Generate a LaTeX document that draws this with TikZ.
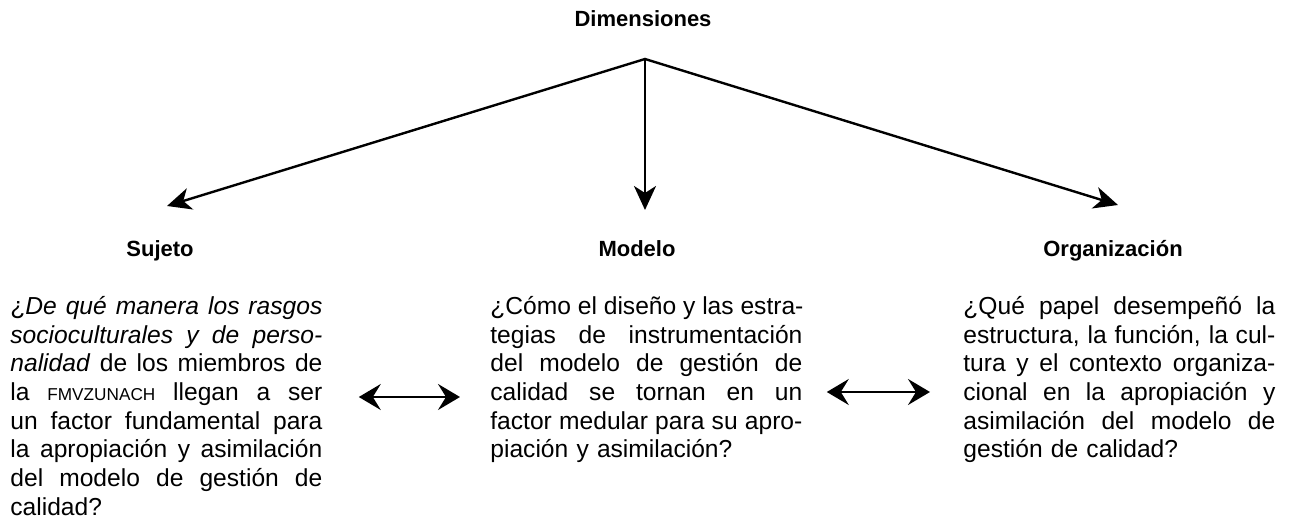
\documentclass[tikz,border=0pt]{standalone}
\usepackage{fontspec}
\setmainfont{Liberation Sans}
\usetikzlibrary{arrows.meta}

\newlength{\colw}\setlength{\colw}{156pt}
% one justified line of a question
\newcommand{\jline}[1]{\leavevmode\hbox to\colw{\spaceskip=\fontdimen2\font plus 1fil\relax
    \xspaceskip=\spaceskip #1}\\}
\newcommand{\acro}[1]{{\fontsize{8.6}{9}\selectfont #1}}

\begin{document}
\begin{tikzpicture}[x=1pt,y=-1pt,line join=miter,
    >={Stealth[length=12pt,width=11pt,inset=3.5pt]},
    head/.style={font=\fontsize{11}{13}\selectfont\bfseries,anchor=base,inner sep=0pt},
    question/.style={anchor=north west,text width=\colw,align=left,inner sep=0pt,
        font=\fontsize{12.3}{14.35}\selectfont},
    branch/.style={line width=1.2pt},
    link/.style={{Stealth[length=11pt,width=13pt,inset=4pt]}-{Stealth[length=11pt,width=13pt,inset=4pt]},
        line width=1.1pt}]

    % fix the page size
    \useasboundingbox (0,0) rectangle (646,261.5);

    % draw the title and the branching arrows
    \node[head] (dim) at (321.5,13.5) {Dimensiones};
    \coordinate (apex) at (322.5,29.5);
    \coordinate (sujtip) at (83.5,103);
    \coordinate (modtip) at (322.5,105);
    \coordinate (orgtip) at (559,102.5);
    \draw[branch,<->] (sujtip) -- (apex) -- (orgtip);
    \draw[branch,->] (apex) -- (modtip);

    % the three dimensions
    \foreach \n/\x/\txt in {suj/80/Sujeto, mod/318.5/Modelo, org/556.5/Organización}
        \node[head] (\n) at (\x,128.5) {\txt};

    % the questions under each dimension
    \node[question] (sujq) at (5,147) {%
        \jline{\strut¿\textit{De qué manera los rasgos}}
        \jline{\textit{socioculturales y de perso-}}
        \jline{\textit{nalidad} de los miembros de}
        \jline{la \acro{FMVZUNACH} llegan a ser}
        \jline{un factor fundamental para}
        \jline{la apropiación y asimilación}
        \jline{del modelo de gestión de}
        calidad?};
    \node[question] (modq) at (245,147) {%
        \jline{\strut¿Cómo el diseño y las estra-}
        \jline{tegias de instrumentación}
        \jline{del modelo de gestión de}
        \jline{calidad se tornan en un}
        \jline{factor medular para su apro-}
        piación y asimilación?};
    \node[question] (orgq) at (481.5,147) {%
        \jline{\strut¿Qué papel desempeñó la}
        \jline{estructura, la función, la cul-}
        \jline{tura y el contexto organiza-}
        \jline{cional en la apropiación y}
        \jline{asimilación del modelo de}
        gestión de calidad?};

    % arrows between the questions
    \coordinate (rowa) at (0,198.5);
    \coordinate (rowb) at (0,196);
    \draw[link] ([xshift=18pt]sujq.east |- rowa) -- ([xshift=-15pt]modq.west |- rowa);
    \draw[link] ([xshift=12pt]modq.east |- rowb) -- ([xshift=-16.5pt]orgq.west |- rowb);
\end{tikzpicture}
\end{document}
